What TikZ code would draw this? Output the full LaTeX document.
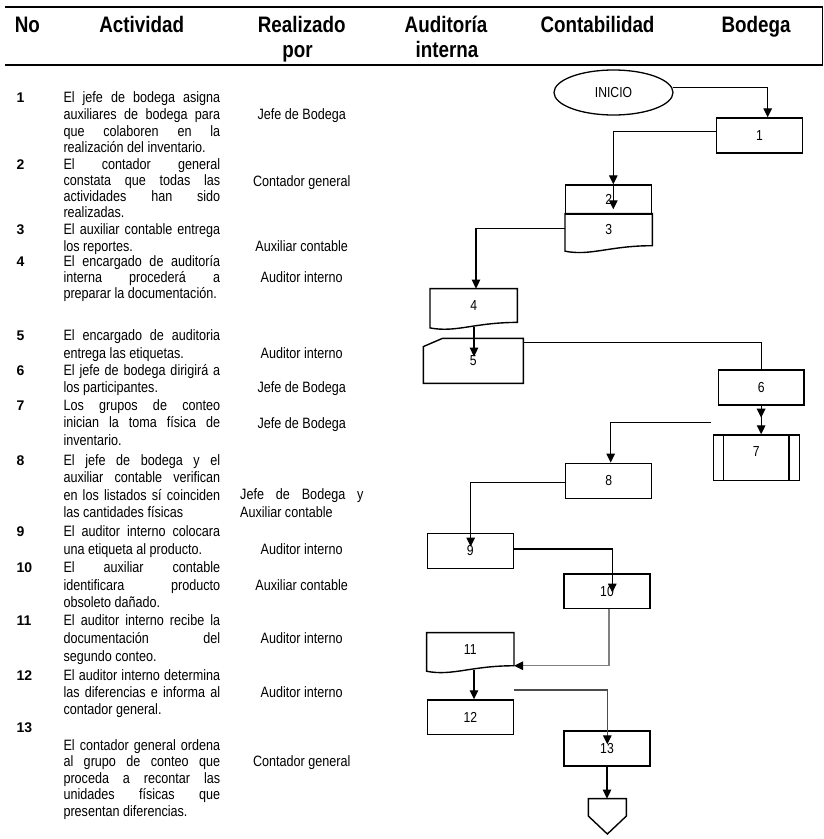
\documentclass[tikz,border=0pt]{standalone}
\usepackage{fontspec}
\usetikzlibrary{arrows.meta,calc,shapes.geometric}
\newfontfamily\nar[FakeStretch=0.84]{Liberation Sans}
\newfontfamily\plain{Liberation Sans}

% outline of a "document" symbol drawn over an invisible node
\newcommand\docoutline[1]{%
  \draw[outline] (#1.north west) -- (#1.north east) -- (#1.south east)
    .. controls +(-43,0) and +(25.8,5) .. ($(#1.south west)+(0,5.5)$) -- cycle;}

\begin{document}
\begin{tikzpicture}[x=1pt,y=-1pt,
  hdr/.style={anchor=base, inner sep=0, font=\nar\bfseries\fontsize{22.4}{25}\selectfont},
  num/.style={anchor=base west, inner sep=0, font=\plain\bfseries\fontsize{14}{16}\selectfont},
  act/.style={anchor=base west, inner sep=0, text width=156.7pt, align=justify,
              font=\nar\fontsize{15}{#1}\selectfont},
  who/.style={anchor=base, inner sep=0, font=\nar\fontsize{15}{17}\selectfont},
  box/.style={draw, line width=1.4pt, minimum width=86pt, minimum height=35pt,
              inner sep=0, font=\nar\fontsize{14.5}{16}\selectfont},
  shp/.style={box, draw=none},
  outline/.style={line width=1.4pt, line join=miter},
  arr/.style={line width=1.3pt, -{Triangle[length=9pt,width=8.5pt,color=black]}},
  link/.style={line width=1.3pt},
]
\useasboundingbox (0,0) rectangle (824,839);

% ---------- header ----------
\draw[line width=2pt] (5,7.3) -- (823,7.3);
\draw[line width=2pt] (5,65) -- (823,65);
\draw[line width=1.2pt] (822.4,7.3) -- (822.4,65);
\node[hdr] (hNo)  at (27.3,32.7)  {No};
\node[hdr] (hAct) at (141.7,32.7) {Actividad};
\node[hdr] (hRea) at (301.7,32.7) {Realizado};
\node[hdr] (hPor) at (297.5,57.5) {por};
\node[hdr] (hAud) at (446,32.7)   {Auditoría};
\node[hdr] (hInt) at (447,57.5)   {interna};
\node[hdr] (hCon) at (597.5,32.7) {Contabilidad};
\node[hdr] (hBod) at (756,32.7)   {Bodega};

% ---------- activity list ----------
\node[num] (n1) at (16.5,102.8) {1};
\node[act=16.7] (a1) at (63.3,102.8) {El jefe de bodega asigna\linebreak auxiliares de bodega para\linebreak que colaboren en la\linebreak realización del inventario.};
\node[who] (r1) at (301.7,119.5) {Jefe de Bodega};

\node[num] (n2) at (16.5,169.5) {2};
\node[act=16.1] (a2) at (63.3,169.5) {El contador general\linebreak constata que todas las\linebreak actividades han sido\linebreak realizadas.};
\node[who] (r2) at (301.7,186) {Contador general};

\node[num] (n3) at (16.5,234.5) {3};
\node[act=16.7] (a3) at (63.3,234.5) {El auxiliar contable entrega\linebreak los reportes.};
\node[who] (r3) at (301.7,251.2) {Auxiliar contable};

\node[num] (n4) at (16.5,266.2) {4};
\node[act=16] (a4) at (63.3,266.2) {El encargado de auditoría\linebreak interna procederá a\linebreak preparar la documentación.};
\node[who] (r4) at (301.7,282.8) {Auditor interno};

\node[num] (n5) at (16.5,340.5) {5};
\node[act=18] (a5) at (63.3,340.5) {El encargado de auditoria\linebreak entrega las etiquetas.};
\node[who] (r5) at (301.7,358.5) {Auditor interno};

\node[num] (n6) at (16.5,375.2) {6};
\node[act=17.6] (a6) at (63.3,375.2) {El jefe de bodega dirigirá a\linebreak los participantes.};
\node[who] (r6) at (301.7,392.8) {Jefe de Bodega};

\node[num] (n7) at (16.5,410.5) {7};
\node[act=17.4] (a7) at (63.3,410.5) {Los grupos de conteo\linebreak inician la toma física de\linebreak inventario.};
\node[who] (r7) at (301.7,428.5) {Jefe de Bodega};

\node[num] (n8) at (16.5,465.2) {8};
\node[act=17.5] (a8) at (63.3,465.2) {El jefe de bodega y el\linebreak auxiliar contable verifican\linebreak en los listados sí coinciden\linebreak las cantidades físicas};
\node[act=18.3, text width=123.3pt] (r8) at (240,499.5) {Jefe de Bodega y\linebreak Auxiliar contable};

\node[num] (n9) at (16.5,536.2) {9};
\node[act=18.3] (a9) at (63.3,536.2) {El auditor interno colocara\linebreak una etiqueta al producto.};
\node[who] (r9) at (301.7,554.5) {Auditor interno};

\node[num] (n10) at (16.5,572.8) {10};
\node[act=17.5] (a10) at (63.3,572.8) {El auxiliar contable\linebreak identificara producto\linebreak obsoleto dañado.};
\node[who] (r10) at (301.7,590.5) {Auxiliar contable};

\node[num] (n11) at (16.5,625.2) {11};
\node[act=18.3] (a11) at (63.3,625.2) {El auditor interno recibe la\linebreak documentación del\linebreak segundo conteo.};
\node[who] (r11) at (301.7,643.8) {Auditor interno};

\node[num] (n12) at (16.5,680) {12};
\node[act=17] (a12) at (63.3,680) {El auditor interno determina\linebreak las diferencias e informa al\linebreak contador general.};
\node[who] (r12) at (301.7,697) {Auditor interno};

\node[num] (n13) at (16.5,732) {13};
\node[act=16.5] (a13) at (63.3,750) {El contador general ordena\linebreak al grupo de conteo que\linebreak proceda a recontar las\linebreak unidades físicas que\linebreak presentan diferencias.};
\node[who] (r13) at (301.7,766.5) {Contador general};

% ---------- flowchart symbols ----------
\node[ellipse, draw, line width=1.3pt, minimum width=119pt, minimum height=45pt, inner sep=0,
      font=\nar\fontsize{14.5}{16}\selectfont] (ini) at (613.5,92.5) {INICIO};
\node[box] (b1) at (759.5,135.5) {1};
\node[box, minimum height=29.3pt] (b2) at (608.7,199.65) {2};
\node[shp, minimum height=30.7pt] (b3) at (608.7,229.65) {3};
\docoutline{b3}
\node[shp, minimum height=32.4pt] (d4) at (473.7,305.5) {4};
\docoutline{d4}
\node[shp, minimum width=98.7pt, minimum height=43.7pt] (m5) at (473.35,360.85) {5};
\draw[outline] (m5.north east) -- (m5.south east) -- (m5.south west)
  -- ($(m5.north west)+(0,8.3)$) -- ($(m5.north west)+(19.3,0)$) -- cycle;
\node[box, minimum width=85.7pt] (b6) at (761.15,387.5) {6};
\node[box, minimum height=45.7pt] (b7) at (756.3,457.85) {};
\draw[outline] ($(b7.north west)+(10.7,0)$) -- ($(b7.south west)+(10.7,0)$);
\draw[outline] ($(b7.north east)+(-11,0)$) -- ($(b7.south east)+(-11,0)$);
\node[inner sep=0, font=\nar\fontsize{14.5}{16}\selectfont] (t7) at ($(b7.center)+(0,-6)$) {7};
\node[box] (b8) at (608.7,480.8) {8};
\node[box] (b9) at (470.3,550.8) {9};
\node[box, minimum height=34.3pt] (b10) at (607,591.15) {10};
\node[shp, minimum height=31.7pt] (d11) at (470.3,649.2) {11};
\docoutline{d11}
\node[box, minimum height=34.3pt] (b12) at (470.3,717.15) {12};
\node[box] (b13) at (607,748.5) {13};
\node[shp, minimum width=36.7pt, minimum height=34pt] (fin) at (607.35,816.3) {};
\draw[outline] (fin.north west) -- (fin.north east) -- ($(fin.north east)+(0,17.4)$)
  -- (fin.south) -- ($(fin.north west)+(0,17.4)$) -- cycle;

% ---------- connectors ----------
\draw[arr] ($(ini.east)+(-0.6,-4.8)$) -| ($(b1.north)+(8.2,0)$);
\draw[arr] ($(b1.west)+(0,-3.8)$) -| ($(b2.north)+(4.6,0)$);
\draw[arr] ($(b2.north)+(4.6,0)$) -- ++(0,25);
\draw[arr] ($(b3.west)+(0,-1.35)$) -| ($(d4.north)+(2.3,0)$);
\draw[arr] ($(d4.south)+(0.3,4.5)$) -- ($(d4.south |- m5.north)+(0.3,18.3)$);
\draw[link] ($(m5.north east)+(0,4.3)$) -| (b6.north);
\draw[arr] (b6.south) -- ++(0,12);
\draw[arr] (b6.south) -- (b6.south |- b7.north);
\coordinate (k7) at ($(b7.north west)+(-1.6,-11.7)$);
\draw[arr] (k7) -| ($(b8.north)+(2,0)$);
\draw[arr] ($(b8.west)+(0,1.5)$) -| ($(b9.north)+(0.4,14)$);
\draw[arr] ($(b9.east)+(0,-1.8)$) -| ($(b10.north)+(5.3,19.3)$);
\draw[arr, draw=gray] ($(b10.south)+(2,0)$) |- (d11.south east);
\draw[arr] ($(d11.south)+(3.7,4.5)$) -- ($(b12.north)+(3.7,0)$);
\coordinate (k12) at ($(b12.north east)+(0,-9.3)$);
\draw[arr, draw=gray!60!black] (k12) -| ($(b13.north)+(0.3,14)$);
\draw[arr] (b13.south) -- (b13.south |- fin.north);
\end{tikzpicture}
\end{document}
